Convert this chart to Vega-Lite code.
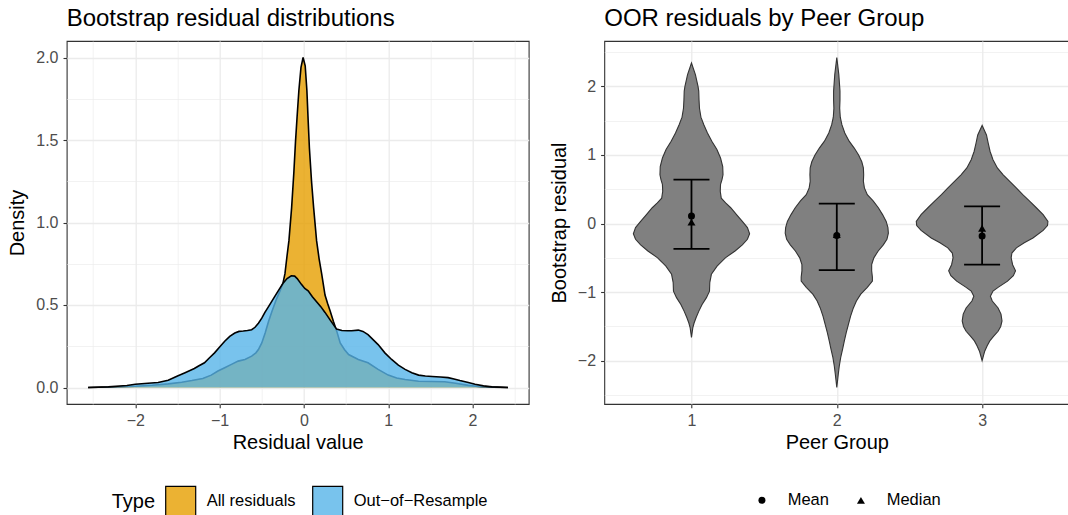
{
  "$schema": "https://vega.github.io/schema/vega-lite/v6.json",
  "padding": {"left": 6.7, "top": 6, "right": 0, "bottom": 0},
  "background": "white",
  "spacing": 18.6,
  "datasets": {
    "dens": [
      {"Type": "All residuals", "x": -2.56, "d": 0},
      {"Type": "All residuals", "x": -2.3, "d": 0.003},
      {"Type": "All residuals", "x": -2.0, "d": 0.008},
      {"Type": "All residuals", "x": -1.8, "d": 0.014},
      {"Type": "All residuals", "x": -1.61, "d": 0.022},
      {"Type": "All residuals", "x": -1.45, "d": 0.032},
      {"Type": "All residuals", "x": -1.33, "d": 0.042},
      {"Type": "All residuals", "x": -1.2, "d": 0.055},
      {"Type": "All residuals", "x": -1.1, "d": 0.075},
      {"Type": "All residuals", "x": -1.02, "d": 0.1},
      {"Type": "All residuals", "x": -0.94, "d": 0.12},
      {"Type": "All residuals", "x": -0.86, "d": 0.14},
      {"Type": "All residuals", "x": -0.78, "d": 0.16},
      {"Type": "All residuals", "x": -0.7, "d": 0.17},
      {"Type": "All residuals", "x": -0.62, "d": 0.19},
      {"Type": "All residuals", "x": -0.57, "d": 0.21},
      {"Type": "All residuals", "x": -0.54, "d": 0.23},
      {"Type": "All residuals", "x": -0.5, "d": 0.27},
      {"Type": "All residuals", "x": -0.46, "d": 0.33},
      {"Type": "All residuals", "x": -0.42, "d": 0.4},
      {"Type": "All residuals", "x": -0.38, "d": 0.46},
      {"Type": "All residuals", "x": -0.33, "d": 0.53},
      {"Type": "All residuals", "x": -0.28, "d": 0.59},
      {"Type": "All residuals", "x": -0.25, "d": 0.63},
      {"Type": "All residuals", "x": -0.225, "d": 0.69},
      {"Type": "All residuals", "x": -0.2, "d": 0.8},
      {"Type": "All residuals", "x": -0.178, "d": 0.89},
      {"Type": "All residuals", "x": -0.146, "d": 1.09},
      {"Type": "All residuals", "x": -0.12, "d": 1.3},
      {"Type": "All residuals", "x": -0.1, "d": 1.49},
      {"Type": "All residuals", "x": -0.08, "d": 1.65},
      {"Type": "All residuals", "x": -0.06, "d": 1.8},
      {"Type": "All residuals", "x": -0.035, "d": 1.94},
      {"Type": "All residuals", "x": -0.01, "d": 2.0},
      {"Type": "All residuals", "x": 0.015, "d": 1.95},
      {"Type": "All residuals", "x": 0.035, "d": 1.8},
      {"Type": "All residuals", "x": 0.05, "d": 1.62},
      {"Type": "All residuals", "x": 0.065, "d": 1.45},
      {"Type": "All residuals", "x": 0.09, "d": 1.25},
      {"Type": "All residuals", "x": 0.115, "d": 1.09},
      {"Type": "All residuals", "x": 0.15, "d": 0.89},
      {"Type": "All residuals", "x": 0.18, "d": 0.78},
      {"Type": "All residuals", "x": 0.21, "d": 0.69},
      {"Type": "All residuals", "x": 0.25, "d": 0.56},
      {"Type": "All residuals", "x": 0.28, "d": 0.51},
      {"Type": "All residuals", "x": 0.31, "d": 0.465},
      {"Type": "All residuals", "x": 0.35, "d": 0.4},
      {"Type": "All residuals", "x": 0.39, "d": 0.34},
      {"Type": "All residuals", "x": 0.43, "d": 0.27},
      {"Type": "All residuals", "x": 0.48, "d": 0.23},
      {"Type": "All residuals", "x": 0.53, "d": 0.2},
      {"Type": "All residuals", "x": 0.645, "d": 0.17},
      {"Type": "All residuals", "x": 0.76, "d": 0.15},
      {"Type": "All residuals", "x": 0.88, "d": 0.11},
      {"Type": "All residuals", "x": 1.0, "d": 0.075},
      {"Type": "All residuals", "x": 1.1, "d": 0.058},
      {"Type": "All residuals", "x": 1.2, "d": 0.048},
      {"Type": "All residuals", "x": 1.36, "d": 0.038},
      {"Type": "All residuals", "x": 1.52, "d": 0.036},
      {"Type": "All residuals", "x": 1.67, "d": 0.035},
      {"Type": "All residuals", "x": 1.8, "d": 0.026},
      {"Type": "All residuals", "x": 1.95, "d": 0.013},
      {"Type": "All residuals", "x": 2.1, "d": 0.005},
      {"Type": "All residuals", "x": 2.25, "d": 0.002},
      {"Type": "All residuals", "x": 2.42, "d": 0},
      {"Type": "Out-of-Resample", "x": -2.56, "d": 0},
      {"Type": "Out-of-Resample", "x": -2.32, "d": 0.004},
      {"Type": "Out-of-Resample", "x": -2.1, "d": 0.012},
      {"Type": "Out-of-Resample", "x": -2.0, "d": 0.02},
      {"Type": "Out-of-Resample", "x": -1.85, "d": 0.026},
      {"Type": "Out-of-Resample", "x": -1.73, "d": 0.03},
      {"Type": "Out-of-Resample", "x": -1.61, "d": 0.044},
      {"Type": "Out-of-Resample", "x": -1.5, "d": 0.07},
      {"Type": "Out-of-Resample", "x": -1.41, "d": 0.09},
      {"Type": "Out-of-Resample", "x": -1.3, "d": 0.115},
      {"Type": "Out-of-Resample", "x": -1.25, "d": 0.13},
      {"Type": "Out-of-Resample", "x": -1.18, "d": 0.15},
      {"Type": "Out-of-Resample", "x": -1.12, "d": 0.18},
      {"Type": "Out-of-Resample", "x": -1.06, "d": 0.21},
      {"Type": "Out-of-Resample", "x": -1.0, "d": 0.245},
      {"Type": "Out-of-Resample", "x": -0.94, "d": 0.28},
      {"Type": "Out-of-Resample", "x": -0.88, "d": 0.31},
      {"Type": "Out-of-Resample", "x": -0.82, "d": 0.33},
      {"Type": "Out-of-Resample", "x": -0.77, "d": 0.34},
      {"Type": "Out-of-Resample", "x": -0.72, "d": 0.342},
      {"Type": "Out-of-Resample", "x": -0.67, "d": 0.345},
      {"Type": "Out-of-Resample", "x": -0.62, "d": 0.35},
      {"Type": "Out-of-Resample", "x": -0.58, "d": 0.365},
      {"Type": "Out-of-Resample", "x": -0.54, "d": 0.39},
      {"Type": "Out-of-Resample", "x": -0.5, "d": 0.42},
      {"Type": "Out-of-Resample", "x": -0.463, "d": 0.455},
      {"Type": "Out-of-Resample", "x": -0.42, "d": 0.49},
      {"Type": "Out-of-Resample", "x": -0.36, "d": 0.54},
      {"Type": "Out-of-Resample", "x": -0.305, "d": 0.586},
      {"Type": "Out-of-Resample", "x": -0.25, "d": 0.63},
      {"Type": "Out-of-Resample", "x": -0.2, "d": 0.66},
      {"Type": "Out-of-Resample", "x": -0.15, "d": 0.677},
      {"Type": "Out-of-Resample", "x": -0.11, "d": 0.675},
      {"Type": "Out-of-Resample", "x": -0.08, "d": 0.66},
      {"Type": "Out-of-Resample", "x": -0.03, "d": 0.625},
      {"Type": "Out-of-Resample", "x": 0.01, "d": 0.6},
      {"Type": "Out-of-Resample", "x": 0.05, "d": 0.586},
      {"Type": "Out-of-Resample", "x": 0.1, "d": 0.55},
      {"Type": "Out-of-Resample", "x": 0.15, "d": 0.52},
      {"Type": "Out-of-Resample", "x": 0.2, "d": 0.49},
      {"Type": "Out-of-Resample", "x": 0.25, "d": 0.455},
      {"Type": "Out-of-Resample", "x": 0.31, "d": 0.41},
      {"Type": "Out-of-Resample", "x": 0.387, "d": 0.354},
      {"Type": "Out-of-Resample", "x": 0.45, "d": 0.345},
      {"Type": "Out-of-Resample", "x": 0.52, "d": 0.344},
      {"Type": "Out-of-Resample", "x": 0.565, "d": 0.344},
      {"Type": "Out-of-Resample", "x": 0.645, "d": 0.348},
      {"Type": "Out-of-Resample", "x": 0.7, "d": 0.34},
      {"Type": "Out-of-Resample", "x": 0.76, "d": 0.32},
      {"Type": "Out-of-Resample", "x": 0.82, "d": 0.29},
      {"Type": "Out-of-Resample", "x": 0.88, "d": 0.26},
      {"Type": "Out-of-Resample", "x": 0.96, "d": 0.21},
      {"Type": "Out-of-Resample", "x": 1.04, "d": 0.17},
      {"Type": "Out-of-Resample", "x": 1.12, "d": 0.135},
      {"Type": "Out-of-Resample", "x": 1.2, "d": 0.11},
      {"Type": "Out-of-Resample", "x": 1.28, "d": 0.09},
      {"Type": "Out-of-Resample", "x": 1.36, "d": 0.075},
      {"Type": "Out-of-Resample", "x": 1.44, "d": 0.07},
      {"Type": "Out-of-Resample", "x": 1.52, "d": 0.067},
      {"Type": "Out-of-Resample", "x": 1.62, "d": 0.064},
      {"Type": "Out-of-Resample", "x": 1.71, "d": 0.06},
      {"Type": "Out-of-Resample", "x": 1.78, "d": 0.052},
      {"Type": "Out-of-Resample", "x": 1.85, "d": 0.042},
      {"Type": "Out-of-Resample", "x": 1.95, "d": 0.03},
      {"Type": "Out-of-Resample", "x": 2.03, "d": 0.02},
      {"Type": "Out-of-Resample", "x": 2.13, "d": 0.01},
      {"Type": "Out-of-Resample", "x": 2.23, "d": 0.004},
      {"Type": "Out-of-Resample", "x": 2.42, "d": 0}
    ],
    "violin": [
      {"g": 1, "y": 2.34, "lo": 1.0, "hi": 1.0},
      {"g": 1, "y": 2.17, "lo": 0.973, "hi": 1.027},
      {"g": 1, "y": 2.0, "lo": 0.955, "hi": 1.045},
      {"g": 1, "y": 1.93, "lo": 0.95, "hi": 1.05},
      {"g": 1, "y": 1.8, "lo": 0.948, "hi": 1.052},
      {"g": 1, "y": 1.68, "lo": 0.945, "hi": 1.055},
      {"g": 1, "y": 1.55, "lo": 0.935, "hi": 1.065},
      {"g": 1, "y": 1.44, "lo": 0.915, "hi": 1.085},
      {"g": 1, "y": 1.32, "lo": 0.89, "hi": 1.11},
      {"g": 1, "y": 1.2, "lo": 0.86, "hi": 1.14},
      {"g": 1, "y": 1.08, "lo": 0.825, "hi": 1.175},
      {"g": 1, "y": 0.955, "lo": 0.8, "hi": 1.2},
      {"g": 1, "y": 0.83, "lo": 0.785, "hi": 1.215},
      {"g": 1, "y": 0.71, "lo": 0.783, "hi": 1.217},
      {"g": 1, "y": 0.64, "lo": 0.79, "hi": 1.21},
      {"g": 1, "y": 0.57, "lo": 0.8, "hi": 1.2},
      {"g": 1, "y": 0.47, "lo": 0.802, "hi": 1.198},
      {"g": 1, "y": 0.37, "lo": 0.795, "hi": 1.205},
      {"g": 1, "y": 0.3, "lo": 0.765, "hi": 1.235},
      {"g": 1, "y": 0.23, "lo": 0.73, "hi": 1.27},
      {"g": 1, "y": 0.13, "lo": 0.69, "hi": 1.31},
      {"g": 1, "y": 0.03, "lo": 0.65, "hi": 1.35},
      {"g": 1, "y": -0.06, "lo": 0.615, "hi": 1.385},
      {"g": 1, "y": -0.15, "lo": 0.6, "hi": 1.4},
      {"g": 1, "y": -0.23, "lo": 0.615, "hi": 1.385},
      {"g": 1, "y": -0.31, "lo": 0.65, "hi": 1.35},
      {"g": 1, "y": -0.4, "lo": 0.7, "hi": 1.3},
      {"g": 1, "y": -0.5, "lo": 0.767, "hi": 1.233},
      {"g": 1, "y": -0.62, "lo": 0.824, "hi": 1.176},
      {"g": 1, "y": -0.74, "lo": 0.863, "hi": 1.137},
      {"g": 1, "y": -0.86, "lo": 0.874, "hi": 1.126},
      {"g": 1, "y": -0.985, "lo": 0.876, "hi": 1.124},
      {"g": 1, "y": -1.08, "lo": 0.897, "hi": 1.103},
      {"g": 1, "y": -1.18, "lo": 0.927, "hi": 1.073},
      {"g": 1, "y": -1.28, "lo": 0.95, "hi": 1.05},
      {"g": 1, "y": -1.37, "lo": 0.968, "hi": 1.032},
      {"g": 1, "y": -1.45, "lo": 0.982, "hi": 1.018},
      {"g": 1, "y": -1.52, "lo": 0.991, "hi": 1.009},
      {"g": 1, "y": -1.66, "lo": 1.0, "hi": 1.0},
      {"g": 2, "y": 2.42, "lo": 2.0, "hi": 2.0},
      {"g": 2, "y": 2.17, "lo": 1.986, "hi": 2.014},
      {"g": 2, "y": 1.93, "lo": 1.978, "hi": 2.022},
      {"g": 2, "y": 1.8, "lo": 1.978, "hi": 2.022},
      {"g": 2, "y": 1.68, "lo": 1.98, "hi": 2.02},
      {"g": 2, "y": 1.55, "lo": 1.976, "hi": 2.024},
      {"g": 2, "y": 1.44, "lo": 1.965, "hi": 2.035},
      {"g": 2, "y": 1.32, "lo": 1.945, "hi": 2.055},
      {"g": 2, "y": 1.2, "lo": 1.915, "hi": 2.085},
      {"g": 2, "y": 1.1, "lo": 1.88, "hi": 2.12},
      {"g": 2, "y": 1.0, "lo": 1.85, "hi": 2.15},
      {"g": 2, "y": 0.9, "lo": 1.828, "hi": 2.172},
      {"g": 2, "y": 0.81, "lo": 1.817, "hi": 2.183},
      {"g": 2, "y": 0.71, "lo": 1.815, "hi": 2.185},
      {"g": 2, "y": 0.615, "lo": 1.817, "hi": 2.183},
      {"g": 2, "y": 0.52, "lo": 1.81, "hi": 2.19},
      {"g": 2, "y": 0.42, "lo": 1.79, "hi": 2.21},
      {"g": 2, "y": 0.33, "lo": 1.75, "hi": 2.25},
      {"g": 2, "y": 0.23, "lo": 1.714, "hi": 2.286},
      {"g": 2, "y": 0.13, "lo": 1.685, "hi": 2.315},
      {"g": 2, "y": 0.03, "lo": 1.66, "hi": 2.34},
      {"g": 2, "y": -0.06, "lo": 1.648, "hi": 2.352},
      {"g": 2, "y": -0.14, "lo": 1.645, "hi": 2.355},
      {"g": 2, "y": -0.23, "lo": 1.655, "hi": 2.345},
      {"g": 2, "y": -0.31, "lo": 1.68, "hi": 2.32},
      {"g": 2, "y": -0.4, "lo": 1.715, "hi": 2.285},
      {"g": 2, "y": -0.5, "lo": 1.745, "hi": 2.255},
      {"g": 2, "y": -0.6, "lo": 1.76, "hi": 2.24},
      {"g": 2, "y": -0.69, "lo": 1.76, "hi": 2.24},
      {"g": 2, "y": -0.78, "lo": 1.755, "hi": 2.245},
      {"g": 2, "y": -0.84, "lo": 1.755, "hi": 2.245},
      {"g": 2, "y": -0.93, "lo": 1.79, "hi": 2.21},
      {"g": 2, "y": -1.03, "lo": 1.835, "hi": 2.165},
      {"g": 2, "y": -1.13, "lo": 1.865, "hi": 2.135},
      {"g": 2, "y": -1.23, "lo": 1.886, "hi": 2.114},
      {"g": 2, "y": -1.35, "lo": 1.905, "hi": 2.095},
      {"g": 2, "y": -1.47, "lo": 1.92, "hi": 2.08},
      {"g": 2, "y": -1.59, "lo": 1.935, "hi": 2.065},
      {"g": 2, "y": -1.71, "lo": 1.948, "hi": 2.052},
      {"g": 2, "y": -1.83, "lo": 1.96, "hi": 2.04},
      {"g": 2, "y": -1.95, "lo": 1.973, "hi": 2.027},
      {"g": 2, "y": -2.08, "lo": 1.983, "hi": 2.017},
      {"g": 2, "y": -2.2, "lo": 1.99, "hi": 2.01},
      {"g": 2, "y": -2.39, "lo": 2.0, "hi": 2.0},
      {"g": 3, "y": 1.43, "lo": 3.0, "hi": 3.0},
      {"g": 3, "y": 1.29, "lo": 2.97, "hi": 3.03},
      {"g": 3, "y": 1.17, "lo": 2.958, "hi": 3.042},
      {"g": 3, "y": 1.05, "lo": 2.945, "hi": 3.055},
      {"g": 3, "y": 0.93, "lo": 2.925, "hi": 3.075},
      {"g": 3, "y": 0.81, "lo": 2.895, "hi": 3.105},
      {"g": 3, "y": 0.71, "lo": 2.855, "hi": 3.145},
      {"g": 3, "y": 0.615, "lo": 2.81, "hi": 3.19},
      {"g": 3, "y": 0.52, "lo": 2.765, "hi": 3.235},
      {"g": 3, "y": 0.42, "lo": 2.72, "hi": 3.28},
      {"g": 3, "y": 0.33, "lo": 2.675, "hi": 3.325},
      {"g": 3, "y": 0.23, "lo": 2.627, "hi": 3.373},
      {"g": 3, "y": 0.13, "lo": 2.58, "hi": 3.42},
      {"g": 3, "y": 0.03, "lo": 2.547, "hi": 3.453},
      {"g": 3, "y": -0.03, "lo": 2.55, "hi": 3.45},
      {"g": 3, "y": -0.1, "lo": 2.58, "hi": 3.42},
      {"g": 3, "y": -0.21, "lo": 2.65, "hi": 3.35},
      {"g": 3, "y": -0.28, "lo": 2.71, "hi": 3.29},
      {"g": 3, "y": -0.354, "lo": 2.764, "hi": 3.236},
      {"g": 3, "y": -0.43, "lo": 2.795, "hi": 3.205},
      {"g": 3, "y": -0.5, "lo": 2.8, "hi": 3.2},
      {"g": 3, "y": -0.6, "lo": 2.79, "hi": 3.21},
      {"g": 3, "y": -0.69, "lo": 2.77, "hi": 3.23},
      {"g": 3, "y": -0.76, "lo": 2.785, "hi": 3.215},
      {"g": 3, "y": -0.84, "lo": 2.825, "hi": 3.175},
      {"g": 3, "y": -0.93, "lo": 2.89, "hi": 3.11},
      {"g": 3, "y": -0.985, "lo": 2.925, "hi": 3.075},
      {"g": 3, "y": -1.06, "lo": 2.943, "hi": 3.057},
      {"g": 3, "y": -1.13, "lo": 2.93, "hi": 3.07},
      {"g": 3, "y": -1.23, "lo": 2.89, "hi": 3.11},
      {"g": 3, "y": -1.32, "lo": 2.87, "hi": 3.13},
      {"g": 3, "y": -1.42, "lo": 2.863, "hi": 3.137},
      {"g": 3, "y": -1.5, "lo": 2.872, "hi": 3.128},
      {"g": 3, "y": -1.57, "lo": 2.89, "hi": 3.11},
      {"g": 3, "y": -1.64, "lo": 2.92, "hi": 3.08},
      {"g": 3, "y": -1.71, "lo": 2.947, "hi": 3.053},
      {"g": 3, "y": -1.78, "lo": 2.965, "hi": 3.035},
      {"g": 3, "y": -1.86, "lo": 2.982, "hi": 3.018},
      {"g": 3, "y": -2.0, "lo": 3.0, "hi": 3.0}
    ],
    "bars": [
      {"g": 1, "y": -0.37, "y2": 0.64},
      {"g": 2, "y": -0.68, "y2": 0.29},
      {"g": 3, "y": -0.6, "y2": 0.25}
    ],
    "caps": [
      {"g": 1, "y": -0.37},
      {"g": 1, "y": 0.64},
      {"g": 2, "y": -0.68},
      {"g": 2, "y": 0.29},
      {"g": 3, "y": -0.6},
      {"g": 3, "y": 0.25}
    ],
    "points": [
      {"g": 1, "stat": "Mean", "y": 0.11},
      {"g": 1, "stat": "Median", "y": 0.02},
      {"g": 2, "stat": "Mean", "y": -0.175},
      {"g": 2, "stat": "Median", "y": -0.16},
      {"g": 3, "stat": "Mean", "y": -0.18},
      {"g": 3, "stat": "Median", "y": -0.07}
    ]
  },
  "hconcat": [
    {
      "width": 462,
      "height": 363,
      "title": {"text": "Bootstrap residual distributions"},
      "data": {"name": "dens"},
      "encoding": {
        "x": {
          "field": "x", "type": "quantitative", "title": "Residual value",
          "scale": {"domain": [-2.814, 2.666], "nice": false, "zero": false},
          "axis": {
            "values": [-2.5, -2, -1.5, -1, -0.5, 0, 0.5, 1, 1.5, 2, 2.5],
            "labelExpr": "round(datum.value) == datum.value ? format(datum.value, '.0f') : ''",
            "tickOpacity": {"condition": {"test": "round(datum.value) == datum.value", "value": 1}, "value": 0},
            "gridWidth": {"condition": {"test": "round(datum.value) == datum.value", "value": 1.3}, "value": 0.65}
          }
        },
        "y": {
          "field": "d", "type": "quantitative", "title": "Density",
          "scale": {"domain": [-0.1, 2.1], "nice": false, "zero": false},
          "axis": {
            "values": [0, 0.25, 0.5, 0.75, 1, 1.25, 1.5, 1.75, 2],
            "labelExpr": "round(datum.value * 2) == datum.value * 2 ? format(datum.value, '.1f') : ''",
            "tickOpacity": {"condition": {"test": "round(datum.value * 2) == datum.value * 2", "value": 1}, "value": 0},
            "gridWidth": {"condition": {"test": "round(datum.value * 2) == datum.value * 2", "value": 1.3}, "value": 0.65}
          }
        }
      },
      "layer": [
        {
          "transform": [{"filter": "datum.Type === 'All residuals'"}],
          "mark": {"type": "area", "orient": "vertical", "fillOpacity": 0.8},
          "encoding": {
            "color": {
              "field": "Type", "type": "nominal",
              "scale": {"domain": ["All residuals", "Out-of-Resample"], "range": ["#E69F00", "#56B4E9"]},
              "legend": {
                "title": "Type", "orient": "none", "legendX": 45, "legendY": 444, "direction": "horizontal", "titleOrient": "left",
                "symbolType": "square", "symbolSize": 900, "symbolStrokeWidth": 1.2,
                "titleFontSize": 20, "titleFontWeight": "normal", "titleColor": "#000000",
                "labelFontSize": 16.5, "labelColor": "#000000", "labelOffset": 10, "columnPadding": 14,
                "titlePadding": 9, "titleBaseline": "middle", "titleAnchor": "middle",
                "labelExpr": "replace(replace(datum.label, '-', '−'), '-', '−')",
                "encode": {"symbols": {"update": {"fillOpacity": {"value": 0.8}, "stroke": {"value": "#000000"}, "strokeOpacity": {"value": 1}}}}
              }
            }
          }
        },
        {
          "transform": [{"filter": "datum.Type === 'All residuals'"}],
          "mark": {"type": "line", "color": "#000000", "strokeWidth": 1.6}
        },
        {
          "transform": [{"filter": "datum.Type === 'Out-of-Resample'"}],
          "mark": {"type": "area", "orient": "vertical", "fillOpacity": 0.8},
          "encoding": {
            "color": {"field": "Type", "type": "nominal"}
          }
        },
        {
          "transform": [{"filter": "datum.Type === 'Out-of-Resample'"}],
          "mark": {"type": "line", "color": "#000000", "strokeWidth": 1.6}
        }
      ]
    },
    {
      "width": 465,
      "height": 363,
      "title": {"text": "OOR residuals by Peer Group"},
      "encoding": {
        "y": {
          "field": "y", "type": "quantitative", "title": "Bootstrap residual",
          "scale": {"domain": [-2.63, 2.66], "nice": false, "zero": false},
          "axis": {
            "values": [-2.5, -2, -1.5, -1, -0.5, 0, 0.5, 1, 1.5, 2, 2.5],
            "labelExpr": "round(datum.value) == datum.value ? format(datum.value, '.0f') : ''",
            "tickOpacity": {"condition": {"test": "round(datum.value) == datum.value", "value": 1}, "value": 0},
            "gridWidth": {"condition": {"test": "round(datum.value) == datum.value", "value": 1.3}, "value": 0.65}
          }
        }
      },
      "layer": [
        {
          "data": {"name": "violin"},
          "mark": {"type": "area", "orient": "horizontal", "fill": "#808080", "stroke": "#333333", "strokeWidth": 1.1},
          "encoding": {
            "x": {
              "field": "lo", "type": "quantitative", "title": "Peer Group",
              "scale": {"domain": [0.4, 3.6], "nice": false, "zero": false},
              "axis": {"values": [1, 2, 3], "format": "d", "gridWidth": 1.3}
            },
            "x2": {"field": "hi"},
            "detail": {"field": "g", "type": "nominal"}
          }
        },
        {
          "data": {"name": "bars"},
          "mark": {"type": "rule", "color": "#000000", "strokeWidth": 1.8},
          "encoding": {
            "x": {"field": "g", "type": "quantitative", "title": "Peer Group", "axis": {"values": [1, 2, 3], "format": "d", "gridWidth": 1.3}},
            "y2": {"field": "y2"}
          }
        },
        {
          "data": {"name": "caps"},
          "mark": {"type": "tick", "orient": "horizontal", "color": "#000000", "thickness": 1.8, "size": 36, "opacity": 1},
          "encoding": {
            "x": {"field": "g", "type": "quantitative", "title": "Peer Group", "axis": {"values": [1, 2, 3], "format": "d", "gridWidth": 1.3}}
          }
        },
        {
          "data": {"name": "points"},
          "mark": {"type": "point", "filled": true, "color": "#000000", "opacity": 1},
          "encoding": {
            "x": {"field": "g", "type": "quantitative", "title": "Peer Group", "axis": {"values": [1, 2, 3], "format": "d", "gridWidth": 1.3}},
            "shape": {
              "field": "stat", "type": "nominal",
              "scale": {"domain": ["Mean", "Median"], "range": ["circle", "triangle-up"]},
              "legend": {
                "title": null, "orient": "none", "legendX": 687, "legendY": 451, "direction": "horizontal",
                "symbolFillColor": "#000000", "symbolStrokeColor": "#000000", "symbolOpacity": 1,
                "labelFontSize": 16.5, "labelColor": "#000000", "labelOffset": 17.5, "columnPadding": 23
              }
            },
            "size": {
              "field": "stat", "type": "nominal",
              "scale": {"domain": ["Mean", "Median"], "range": [49, 64]},
              "legend": {
                "title": null, "orient": "none", "legendX": 687, "legendY": 451, "direction": "horizontal",
                "symbolFillColor": "#000000", "symbolStrokeColor": "#000000", "symbolOpacity": 1,
                "labelFontSize": 16.5, "labelColor": "#000000", "labelOffset": 17.5, "columnPadding": 23
              }
            }
          }
        }
      ]
    }
  ],
  "config": {
    "font": "Liberation Sans",
    "view": {"stroke": "#333333", "strokeWidth": 1.1},
    "title": {"fontSize": 24, "fontWeight": "normal", "color": "#000000", "anchor": "start", "frame": "group", "offset": 10},
    "axis": {
      "domain": false, "grid": true, "gridColor": "#EBEBEB",
      "tickColor": "#333333", "tickSize": 3.7, "tickWidth": 1.1,
      "labelColor": "#4D4D4D", "labelFontSize": 16, "labelPadding": 5,
      "labelOverlap": false, "labelFlush": false, "labelBound": false,
      "titleFontSize": 20, "titleFontWeight": "normal", "titleColor": "#000000"
    },
    "axisX": {"titlePadding": 4},
    "axisY": {"titlePadding": 8}
  }
}
